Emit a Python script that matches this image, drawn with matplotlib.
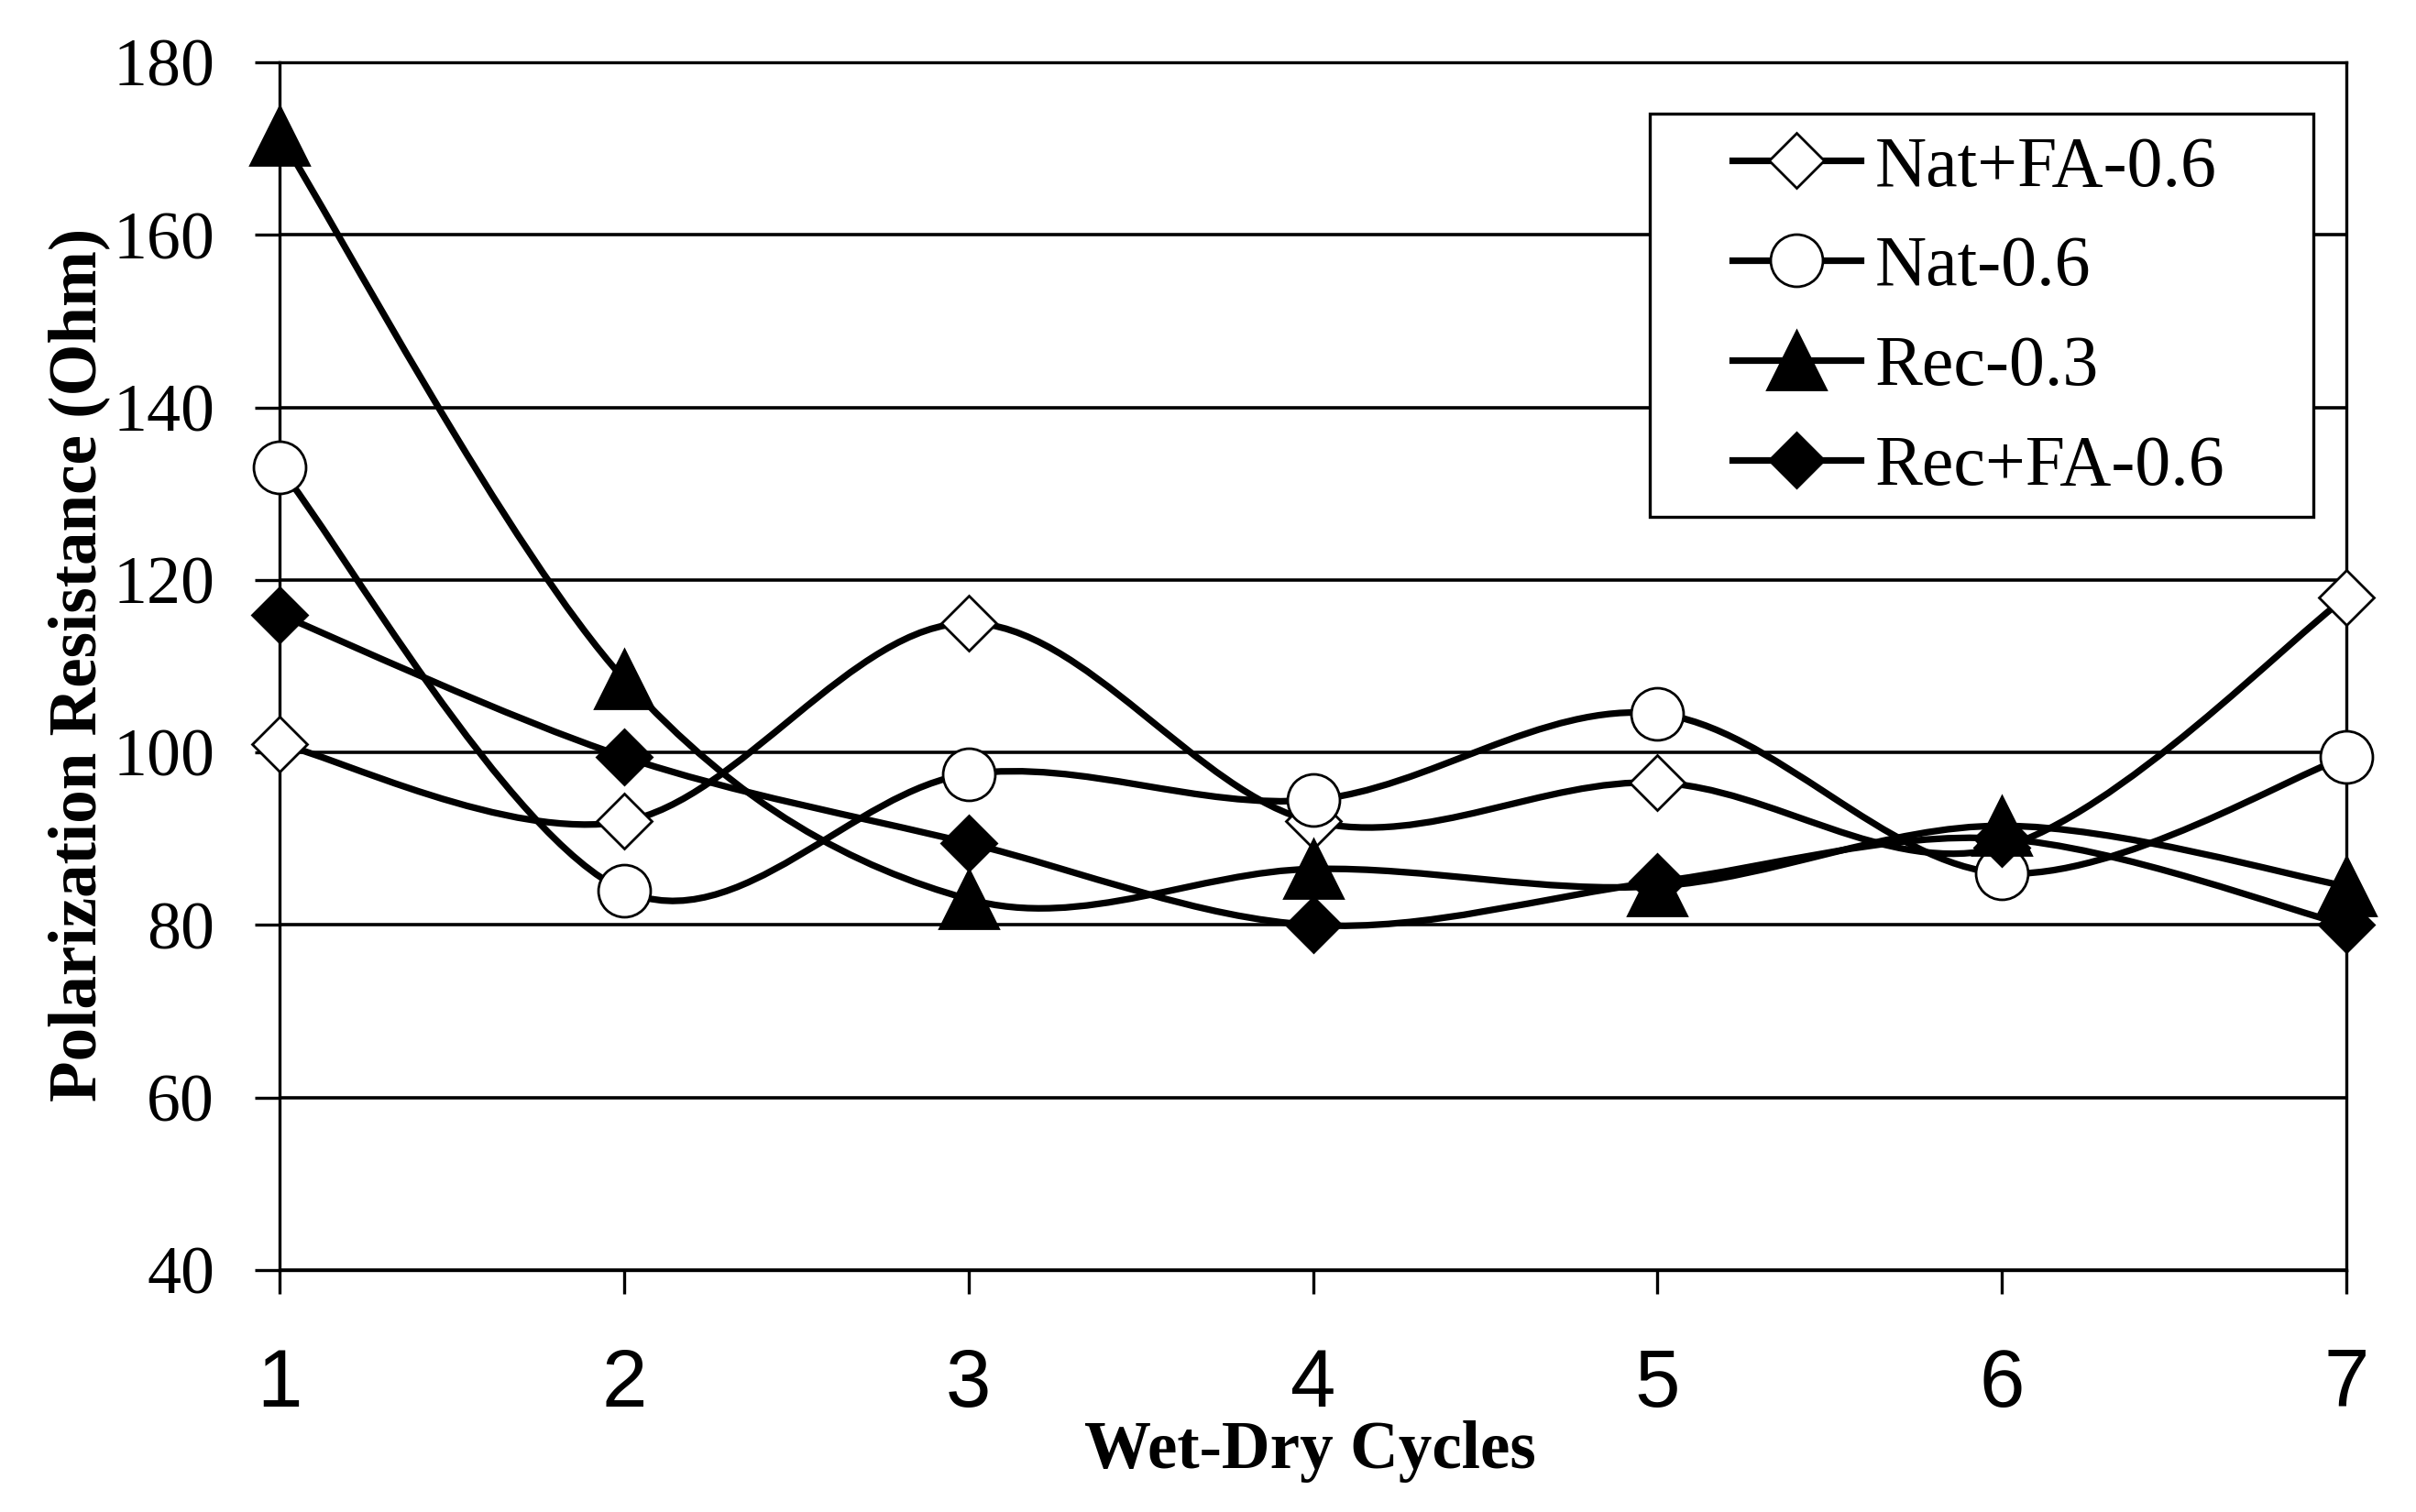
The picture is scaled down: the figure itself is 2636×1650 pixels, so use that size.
import matplotlib
matplotlib.use('Agg')
import matplotlib.pyplot as plt
from matplotlib.path import Path
from matplotlib.patches import PathPatch, Rectangle
from matplotlib.lines import Line2D
from matplotlib.font_manager import FontProperties
import numpy as np

# ---- data ----
cycles = [1, 2, 3, 4, 5, 6, 7]
nat_fa_06 = [101, 92, 115, 92, 96.5, 89, 118]
nat_06 = [133, 84, 97.5, 94.5, 104.5, 86, 99.5]
rec_03 = [171.5, 108.5, 83, 86.5, 84.5, 91.5, 84.5]
rec_fa_06 = [116, 99.5, 89.5, 80, 85, 90, 80]
series_names = ['Nat+FA-0.6', 'Nat-0.6', 'Rec-0.3', 'Rec+FA-0.6']
y_ticks = [40, 60, 80, 100, 120, 140, 160, 180]
x_label = 'Wet-Dry Cycles'
y_label = 'Polarization Resistance (Ohm)'

W, H, DPI = 2636, 1650, 200
PT = DPI / 72.0  # px per point

fig = plt.figure(figsize=(W / DPI, H / DPI), dpi=DPI)
fig.patch.set_facecolor('white')
ax_l, ax_r, ax_t, ax_b = 305, 2560, 68, 1386
ax = fig.add_axes([ax_l / W, 1 - ax_b / H, (ax_r - ax_l) / W, (ax_b - ax_t) / H])


def smooth_path(xs, ys):
    """Excel-like smoothed line: cubic Bezier segments through the data points."""
    P = np.column_stack([xs, ys]).astype(float)
    n = len(P)
    verts = [P[0]]
    codes = [Path.MOVETO]
    for i in range(n - 1):
        p_prev = P[i - 1] if i > 0 else P[i]
        p_next2 = P[i + 2] if i + 2 < n else P[i + 1]
        c1 = P[i] + (P[i + 1] - p_prev) / 6.0
        c2 = P[i + 1] - (p_next2 - P[i]) / 6.0
        verts += [c1, c2, P[i + 1]]
        codes += [Path.CURVE4] * 3
    return Path(verts, codes)


line_w = 2.6
styles = [
    dict(marker='D', ms=15.3, mfc='white', mec='black', mew=1.0),
    dict(marker='o', ms=20.5, mfc='white', mec='black', mew=1.0),
    dict(marker='^', ms=23.0, mfc='black', mec='black', mew=1.0),
    dict(marker='D', ms=15.3, mfc='black', mec='black', mew=1.0),
]
all_series = [nat_fa_06, nat_06, rec_03, rec_fa_06]

handles = []
for i, (vals, st, name) in enumerate(zip(all_series, styles, series_names)):
    z = 3 + i * 0.2
    patch = PathPatch(smooth_path(cycles, vals), fill=False, edgecolor='black',
                      lw=line_w, zorder=z, clip_on=False, capstyle='round', joinstyle='round')
    ax.add_patch(patch)
    ax.plot(cycles, vals, linestyle='none', zorder=z + 0.1, clip_on=False, **st)
    handles.append(Line2D([], [], color='black', lw=line_w, **st))

ax.set_xlim(1, 7)
ax.set_ylim(40, 180)

ax.set_yticks(y_ticks)
ax.set_yticklabels([str(v) for v in y_ticks], fontfamily='Liberation Serif', fontsize=26.6)
ax.set_xticks(cycles)
ax.set_xticklabels([str(v) for v in cycles], fontfamily='Liberation Sans', fontsize=32)
ax.tick_params(axis='y', direction='out', length=27 / PT, width=1.2, pad=44 / PT, colors='black')
ax.tick_params(axis='x', direction='out', length=26 / PT, width=1.2, pad=58 / PT, colors='black')

for sp in ax.spines.values():
    sp.set_color('black')
    sp.set_linewidth(1.2)
ax.yaxis.grid(True, color='black', lw=1.3)
ax.set_axisbelow(True)

# axis titles
fig.text(1429 / W, 1 - 1602 / H, x_label, ha='center', va='baseline',
         fontfamily='Liberation Serif', fontweight='bold', fontsize=26.3)
fig.text(104 / W, 1 - 725 / H, y_label, ha='center', va='baseline', rotation=90,
         rotation_mode='anchor', fontfamily='Liberation Serif', fontweight='bold', fontsize=26.3)

# legend box
box = Rectangle((1800 / W, 1 - 564 / H), 724 / W, 440 / H, transform=fig.transFigure,
                facecolor='white', edgecolor='black', lw=1.2, zorder=6, clip_on=False)
ax.add_patch(box)
leg = ax.legend(handles, series_names, loc='upper left',
                bbox_to_anchor=(1890 / W, 1 - 148 / H), bbox_transform=fig.transFigure,
                frameon=False, borderpad=0, borderaxespad=0, handlelength=1.8,
                handletextpad=0.2, labelspacing=0.48, numpoints=1,
                prop=FontProperties(family='Liberation Serif', size=28))
leg.set_zorder(7)

fig.savefig('out.png', dpi=DPI, facecolor='white')
